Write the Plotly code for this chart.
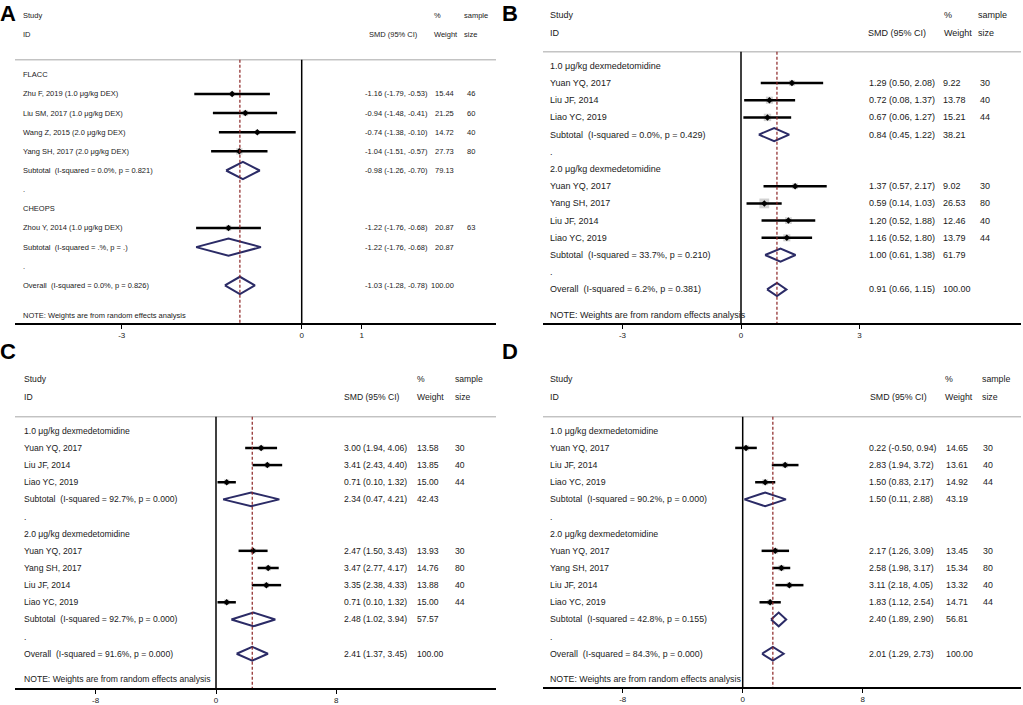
import plotly.graph_objects as go

# ---- panel A: FLACC / CHEOPS ----
a_labels = ["FLACC", "Zhu F, 2019 (1.0 μg/kg DEX)", "Liu SM, 2017 (1.0 μg/kg DEX)",
            "Wang Z, 2015 (2.0 μg/kg DEX)", "Yang SH, 2017 (2.0 μg/kg DEX)",
            "Subtotal  (I-squared = 0.0%, p = 0.821)", ".", "CHEOPS",
            "Zhou Y, 2014 (1.0 μg/kg DEX)", "Subtotal  (I-squared = .%, p = .)", ".",
            "Overall  (I-squared = 0.0%, p = 0.826)"]
a_est = [None, -1.16, -0.94, -0.74, -1.04, -0.98, None, None, -1.22, -1.22, None, -1.03]
a_lo = [None, -1.79, -1.48, -1.38, -1.51, -1.26, None, None, -1.76, -1.76, None, -1.28]
a_hi = [None, -0.53, -0.41, -0.10, -0.57, -0.70, None, None, -0.68, -0.68, None, -0.78]
a_wt = [None, 15.44, 21.25, 14.72, 27.73, 79.13, None, None, 20.87, 20.87, None, 100.00]
a_n = [None, 46, 60, 40, 80, None, None, None, 63, None, None, None]
a_ticks = [-3, 0, 1]

# ---- panel B ----
b_labels = ["1.0 μg/kg dexmedetomidine", "Yuan YQ, 2017", "Liu JF, 2014", "Liao YC, 2019",
            "Subtotal  (I-squared = 0.0%, p = 0.429)", ".", "2.0 μg/kg dexmedetomidine",
            "Yuan YQ, 2017", "Yang SH, 2017", "Liu JF, 2014", "Liao YC, 2019",
            "Subtotal  (I-squared = 33.7%, p = 0.210)", ".",
            "Overall  (I-squared = 6.2%, p = 0.381)"]
b_est = [None, 1.29, 0.72, 0.67, 0.84, None, None, 1.37, 0.59, 1.20, 1.16, 1.00, None, 0.91]
b_lo = [None, 0.50, 0.08, 0.06, 0.45, None, None, 0.57, 0.14, 0.52, 0.52, 0.61, None, 0.66]
b_hi = [None, 2.08, 1.37, 1.27, 1.22, None, None, 2.17, 1.03, 1.88, 1.80, 1.38, None, 1.15]
b_wt = [None, 9.22, 13.78, 15.21, 38.21, None, None, 9.02, 26.53, 12.46, 13.79, 61.79, None, 100.00]
b_n = [None, 30, 40, 44, None, None, None, 30, 80, 40, 44, None, None, None]
b_ticks = [-3, 0, 3]

# ---- panel C ----
c_labels = ["1.0 μg/kg dexmedetomidine", "Yuan YQ, 2017", "Liu JF, 2014", "Liao YC, 2019",
            "Subtotal  (I-squared = 92.7%, p = 0.000)", ".", "2.0 μg/kg dexmedetomidine",
            "Yuan YQ, 2017", "Yang SH, 2017", "Liu JF, 2014", "Liao YC, 2019",
            "Subtotal  (I-squared = 92.7%, p = 0.000)", ".",
            "Overall  (I-squared = 91.6%, p = 0.000)"]
c_est = [None, 3.00, 3.41, 0.71, 2.34, None, None, 2.47, 3.47, 3.35, 0.71, 2.48, None, 2.41]
c_lo = [None, 1.94, 2.43, 0.10, 0.47, None, None, 1.50, 2.77, 2.38, 0.10, 1.02, None, 1.37]
c_hi = [None, 4.06, 4.40, 1.32, 4.21, None, None, 3.43, 4.17, 4.33, 1.32, 3.94, None, 3.45]
c_wt = [None, 13.58, 13.85, 15.00, 42.43, None, None, 13.93, 14.76, 13.88, 15.00, 57.57, None, 100.00]
c_n = [None, 30, 40, 44, None, None, None, 30, 80, 40, 44, None, None, None]
c_ticks = [-8, 0, 8]

# ---- panel D ----
d_labels = ["1.0 μg/kg dexmedetomidine", "Yuan YQ, 2017", "Liu JF, 2014", "Liao YC, 2019",
            "Subtotal  (I-squared = 90.2%, p = 0.000)", ".", "2.0 μg/kg dexmedetomidine",
            "Yuan YQ, 2017", "Yang SH, 2017", "Liu JF, 2014", "Liao YC, 2019",
            "Subtotal  (I-squared = 42.8%, p = 0.155)", ".",
            "Overall  (I-squared = 84.3%, p = 0.000)"]
d_est = [None, 0.22, 2.83, 1.50, 1.50, None, None, 2.17, 2.58, 3.11, 1.83, 2.40, None, 2.01]
d_lo = [None, -0.50, 1.94, 0.83, 0.11, None, None, 1.26, 1.98, 2.18, 1.12, 1.89, None, 1.29]
d_hi = [None, 0.94, 3.72, 2.17, 2.88, None, None, 3.09, 3.17, 4.05, 2.54, 2.90, None, 2.73]
d_wt = [None, 14.65, 13.61, 14.92, 43.19, None, None, 13.45, 15.34, 13.32, 14.71, 56.81, None, 100.00]
d_n = [None, 30, 40, 44, None, None, None, 30, 80, 40, 44, None, None, None]
d_ticks = [-8, 0, 8]

note = "NOTE: Weights are from random effects analysis"

W, H = 1023, 705
FONT = "Liberation Sans"
TXT = "#1a1a1a"

# layout geometry for each panel (pixel positions)
panels = [
    dict(tag="A", data=(a_labels, a_est, a_lo, a_hi, a_wt, a_n, a_ticks),
         x0=15, x1=496, zero=301.7, ppu=60, top=0, bottom=324, row0=75, step=19.2,
         hy=(16, 35), grey=60, lab=21, smd=363, smd_h=367, wt=456, wt_anchor="right",
         wt_h=432, n=465, n_h=462, fs=7.5, sq=1.2, dh=0.45, note=12.55, letter=(8, 0)),
    dict(tag="B", data=(b_labels, b_est, b_lo, b_hi, b_wt, b_n, b_ticks),
         x0=543, x1=1021, zero=741, ppu=39.5, top=0, bottom=324, row0=66, step=17.25,
         hy=(15, 33), grey=52, lab=548, smd=867, smd_h=866, wt=941, wt_anchor="left",
         wt_h=942, n=978, n_h=976, fs=9, sq=1.9, dh=0.38, note=14.5, letter=(510, 0)),
    dict(tag="C", data=(c_labels, c_est, c_lo, c_hi, c_wt, c_n, c_ticks),
         x0=15, x1=496, zero=216, ppu=15.04, top=355, bottom=690, row0=432, step=17.2,
         hy=(380, 398), grey=418, lab=22, smd=342, smd_h=342, wt=415, wt_anchor="left",
         wt_h=415, n=453, n_h=453, fs=8.6, sq=1.4, dh=0.4, note=14.48, letter=(8, 339)),
    dict(tag="D", data=(d_labels, d_est, d_lo, d_hi, d_wt, d_n, d_ticks),
         x0=543, x1=1021, zero=742.7, ppu=15.0, top=355, bottom=689, row0=432, step=17.2,
         hy=(380, 398), grey=418, lab=548, smd=867, smd_h=868, wt=944, wt_anchor="left",
         wt_h=943, n=981, n_h=980, fs=8.8, sq=1.5, dh=0.4, note=14.48, letter=(510, 339)),
]


def px(x):
    return x / W


def py(y):
    return 1 - y / H


fig = go.Figure()
annotations = []
shapes = []
layout = {}

for i, p in enumerate(panels):
    labels, est, lo, hi, wt, n, ticks = p["data"]
    k = "" if i == 0 else str(i + 1)
    xa, ya = "x" + k, "y" + k
    rows = list(range(len(labels)))
    font = dict(family=FONT, size=p["fs"], color=TXT)

    # axes
    xr = [(p["x0"] - p["zero"]) / p["ppu"], (p["x1"] - p["zero"]) / p["ppu"]]
    yr = [(p["bottom"] - p["row0"]) / p["step"], (p["top"] - p["row0"]) / p["step"]]
    layout["xaxis" + k] = dict(domain=[px(p["x0"]), px(p["x1"])], range=xr, anchor=ya,
                               showgrid=False, zeroline=False, showline=True,
                               linecolor="black", linewidth=1.5, ticks="outside",
                               ticklen=4, tickcolor="black", tickvals=ticks,
                               ticktext=[str(t) for t in ticks],
                               tickfont=dict(family=FONT, size=8, color=TXT), fixedrange=True)
    layout["yaxis" + k] = dict(domain=[py(p["bottom"]), py(p["top"])], range=yr, anchor=xa,
                               visible=False, fixedrange=True)

    studies = [r for r in rows if n[r] is not None]
    pooled = [r for r in rows if est[r] is not None and n[r] is None]

    # weight boxes
    fig.add_trace(go.Scatter(
        x=[est[r] for r in studies], y=studies, xaxis=xa, yaxis=ya, mode="markers",
        marker=dict(symbol="square", color="#bdbdbd",
                    size=[p["sq"] * wt[r] ** 0.5 for r in studies], line=dict(width=0)),
        hoverinfo="skip", showlegend=False))
    # confidence intervals
    cx, cy = [], []
    for r in studies:
        cx += [lo[r], hi[r], None]
        cy += [r, r, None]
    fig.add_trace(go.Scatter(x=cx, y=cy, xaxis=xa, yaxis=ya, mode="lines",
                             line=dict(color="black", width=2.5),
                             hoverinfo="skip", showlegend=False))
    # point estimates
    fig.add_trace(go.Scatter(
        x=[est[r] for r in studies], y=studies, xaxis=xa, yaxis=ya, mode="markers",
        marker=dict(symbol="diamond", color="black", size=5),
        hoverinfo="skip", showlegend=False))
    # pooled diamonds
    dx, dy = [], []
    for r in pooled:
        dx += [lo[r], est[r], hi[r], est[r], lo[r], None]
        dy += [r, r - p["dh"], r, r + p["dh"], r, None]
    fig.add_trace(go.Scatter(x=dx, y=dy, xaxis=xa, yaxis=ya, mode="lines",
                             line=dict(color="#2b2b66", width=2),
                             hoverinfo="skip", showlegend=False))

    # reference lines
    shapes.append(dict(type="line", xref="paper", yref="paper",
                       x0=px(p["x0"]), x1=px(p["x1"]), y0=py(p["grey"]), y1=py(p["grey"]),
                       line=dict(color="#a6a6a6", width=1)))
    shapes.append(dict(type="line", xref=xa, yref="paper", x0=0, x1=0,
                       y0=py(p["grey"]), y1=py(p["bottom"]),
                       line=dict(color="black", width=1.5)))
    overall = est[-1]
    shapes.append(dict(type="line", xref=xa, yref="paper", x0=overall, x1=overall,
                       y0=py(p["grey"]), y1=py(p["bottom"]),
                       line=dict(color="#8b2323", width=1.2, dash="3px,2px")))

    def txt(x, y, s, anchor="left", yref="paper"):
        annotations.append(dict(x=px(x), y=y, xref="paper", yref=yref, text=s,
                                showarrow=False, xanchor=anchor, yanchor="middle",
                                font=font))

    # header
    hs, hi_ = py(p["hy"][0]), py(p["hy"][1])
    txt(p["lab"], hs, "Study")
    txt(p["lab"], hi_, "ID")
    txt(p["smd_h"], hi_, "SMD (95% CI)")
    txt(p["wt_h"], hs, "%")
    txt(p["wt_h"], hi_, "Weight")
    txt(p["n_h"], hs, "sample")
    txt(p["n_h"], hi_, "size")

    # rows
    for r in rows:
        txt(p["lab"], r, labels[r], yref=ya)
        if est[r] is not None:
            txt(p["smd"], r, f"{est[r]:.2f} ({lo[r]:.2f}, {hi[r]:.2f})", yref=ya)
            txt(p["wt"], r, f"{wt[r]:.2f}", anchor=p["wt_anchor"], yref=ya)
        if n[r] is not None:
            txt(p["n"], r, str(n[r]), yref=ya)
    txt(p["lab"], p["note"], note, yref=ya)

    # panel letter
    annotations.append(dict(x=px(p["letter"][0]), y=py(p["letter"][1]), xref="paper",
                            yref="paper", text="<b>" + p["tag"] + "</b>", showarrow=False,
                            xanchor="center", yanchor="top", borderpad=0,
                            font=dict(family=FONT, size=22, color="black")))

fig.update_layout(width=W, height=H, margin=dict(l=0, r=0, t=0, b=0),
                  paper_bgcolor="white", plot_bgcolor="white",
                  annotations=annotations, shapes=shapes, showlegend=False, **layout)

# page body has a default 8px margin; drop it so the figure sits at the window corner
fig.write_html("out.html", config={"displayModeBar": False},
               post_script="document.body.style.margin='0';")
